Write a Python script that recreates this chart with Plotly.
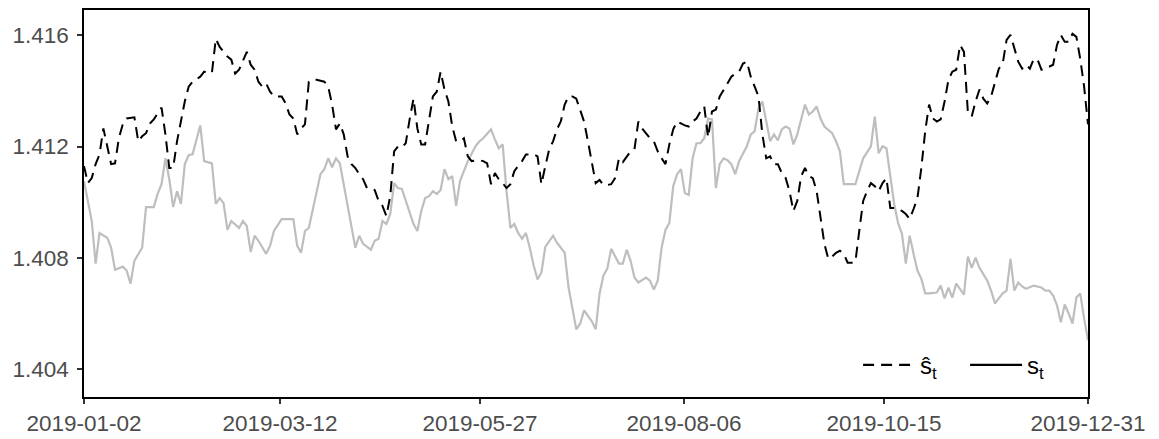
import plotly.graph_objects as go

# x readings are trading-day numbers on a 260-step reading grid (0 .. 259)
s_idx = [0, 2, 3, 4, 6, 7, 8, 10, 11, 12, 13, 15, 16, 18, 19, 20, 21, 22, 23, 24, 25, 26, 27, 28, 30, 31, 33, 34, 35, 36,
         37, 38, 40, 41, 42, 43, 44, 45, 47, 48, 49, 51, 54, 55, 56, 57, 58, 60, 61, 62, 63, 64, 65, 66, 67, 68, 70, 71, 72, 74,
         75, 76, 77, 78, 79, 80, 81, 82, 84, 85, 86, 87, 88, 89, 90, 91, 92, 93, 94, 95, 96, 97, 98, 99, 101, 102, 103, 105, 106, 107,
         108, 109, 110, 111, 112, 113, 114, 115, 116, 117, 118, 119, 121, 122, 124, 125, 127, 128, 129, 130, 131, 132, 133, 134, 135, 136, 137, 138, 139, 140,
         141, 142, 143, 145, 146, 147, 148, 149, 150, 151, 152, 153, 154, 155, 156, 157, 158, 159, 160, 161, 162, 163, 164, 165, 166, 167, 168, 169, 171, 172,
         173, 174, 175, 176, 177, 178, 179, 180, 181, 182, 183, 184, 186, 187, 188, 189, 190, 191, 193, 194, 195, 196, 199, 200, 201, 203, 204, 205, 206, 207,
         208, 209, 210, 211, 212, 213, 214, 215, 216, 217, 218, 220, 221, 222, 223, 224, 225, 226, 227, 228, 229, 230, 231, 233, 234, 235, 237, 238, 239, 240,
         241, 242, 243, 245, 247, 248, 249, 250, 251, 252, 253, 254, 255, 256, 257, 258, 259]
s_val = [1.41076, 1.40933, 1.40780, 1.40890, 1.40873, 1.40837, 1.40758, 1.40769, 1.40755, 1.40708, 1.40790, 1.40837, 1.40983, 1.40983, 1.41030, 1.41065, 1.41158, 1.41083, 1.40983, 1.41040, 1.40994, 1.41137, 1.41169, 1.41172, 1.41276, 1.41148, 1.41140, 1.40994, 1.41015, 1.40997,
         1.40901, 1.40933, 1.40908, 1.40933, 1.40915, 1.40822, 1.40880, 1.40862, 1.40815, 1.40844, 1.40897, 1.40940, 1.40940, 1.40844, 1.40819, 1.40897, 1.40908, 1.41040, 1.41101, 1.41119, 1.41158, 1.41126, 1.41158, 1.41140, 1.41065, 1.40980, 1.40837, 1.40880, 1.40851, 1.40830,
         1.40862, 1.40869, 1.40933, 1.40922, 1.40958, 1.41069, 1.41051, 1.41048, 1.40969, 1.40922, 1.40897, 1.40969, 1.41015, 1.41022, 1.41040, 1.41030, 1.41044, 1.41119, 1.41083, 1.41094, 1.40987, 1.41076, 1.41112, 1.41148, 1.41201, 1.41219, 1.41230, 1.41262, 1.41226, 1.41194,
         1.41208, 1.41040, 1.40908, 1.40922, 1.40890, 1.40869, 1.40890, 1.40837, 1.40773, 1.40723, 1.40748, 1.40840, 1.40880, 1.40855, 1.40819, 1.40694, 1.40544, 1.40565, 1.40612, 1.40590, 1.40573, 1.40544, 1.40673, 1.40737, 1.40762, 1.40833, 1.40805, 1.40780, 1.40780, 1.40830,
         1.40790, 1.40730, 1.40712, 1.40730, 1.40719, 1.40687, 1.40719, 1.40837, 1.40901, 1.40926, 1.41058, 1.41101, 1.41119, 1.41033, 1.41026, 1.41158, 1.41212, 1.41212, 1.41230, 1.41301, 1.41298, 1.41051, 1.41137, 1.41158, 1.41151, 1.41137, 1.41101, 1.41148, 1.41201, 1.41244,
         1.41255, 1.41337, 1.41362, 1.41290, 1.41219, 1.41244, 1.41222, 1.41262, 1.41272, 1.41265, 1.41208, 1.41244, 1.41351, 1.41315, 1.41326, 1.41344, 1.41301, 1.41272, 1.41248, 1.41219, 1.41183, 1.41065, 1.41065, 1.41112, 1.41158, 1.41201, 1.41308, 1.41176, 1.41201, 1.41194,
         1.41087, 1.40994, 1.40926, 1.40887, 1.40780, 1.40880, 1.40815, 1.40755, 1.40726, 1.40673, 1.40673, 1.40676, 1.40701, 1.40655, 1.40694, 1.40658, 1.40708, 1.40687, 1.40669, 1.40805, 1.40765, 1.40801, 1.40765, 1.40719, 1.40683, 1.40637, 1.40673, 1.40683, 1.40797, 1.40683,
         1.40712, 1.40698, 1.40690, 1.40701, 1.40694, 1.40683, 1.40683, 1.40665, 1.40630, 1.40569, 1.40633, 1.40601, 1.40565, 1.40658, 1.40673, 1.40583, 1.40505]

shat_idx = [0, 1, 2, 3, 4, 5, 6, 7, 8, 9, 10, 11, 13, 14, 15, 16, 17, 18, 20, 21, 22, 23, 24, 25, 26, 27, 28, 30, 31, 32,
            33, 34, 35, 36, 37, 38, 39, 40, 42, 43, 44, 45, 46, 47, 48, 49, 51, 52, 53, 54, 55, 56, 57, 58, 59, 60, 62, 63, 64, 65,
            66, 67, 68, 69, 70, 71, 72, 73, 75, 76, 77, 78, 79, 80, 81, 82, 83, 84, 85, 86, 87, 88, 89, 90, 91, 92, 93, 94, 95, 96,
            97, 98, 99, 100, 102, 103, 104, 105, 106, 107, 108, 109, 110, 111, 112, 113, 114, 115, 116, 117, 118, 119, 120, 121, 122, 123, 124, 125, 126, 127,
            128, 129, 130, 131, 132, 133, 134, 135, 136, 137, 138, 139, 140, 141, 142, 143, 144, 145, 146, 147, 148, 149, 150, 151, 152, 153, 154, 155, 156, 157,
            158, 159, 160, 161, 162, 163, 164, 165, 166, 167, 168, 169, 170, 171, 172, 173, 174, 175, 176, 177, 178, 179, 180, 181, 182, 183, 184, 185, 186, 187,
            188, 189, 190, 191, 192, 193, 194, 195, 196, 197, 198, 199, 200, 201, 202, 203, 204, 205, 206, 207, 208, 209, 210, 211, 212, 213, 214, 215, 216, 217,
            218, 219, 220, 221, 222, 223, 224, 225, 226, 227, 228, 229, 230, 231, 232, 233, 234, 235, 236, 237, 238, 239, 240, 241, 242, 243, 244, 245, 246, 247,
            248, 249, 250, 251, 252, 253, 254, 255, 256, 257, 258, 259]
shat_val = [1.41130, 1.41069, 1.41087, 1.41137, 1.41172, 1.41265, 1.41201, 1.41137, 1.41140, 1.41230, 1.41280, 1.41301, 1.41305, 1.41219, 1.41237, 1.41248, 1.41283, 1.41298, 1.41340, 1.41244, 1.41123, 1.41123, 1.41219, 1.41298, 1.41362, 1.41415, 1.41433, 1.41451, 1.41469, 1.41465,
            1.41465, 1.41587, 1.41558, 1.41540, 1.41523, 1.41512, 1.41462, 1.41476, 1.41540, 1.41494, 1.41476, 1.41433, 1.41415, 1.41426, 1.41397, 1.41380, 1.41380, 1.41355, 1.41315, 1.41301, 1.41244, 1.41265, 1.41280, 1.41433, 1.41440, 1.41440, 1.41433, 1.41415, 1.41351, 1.41262,
            1.41283, 1.41244, 1.41165, 1.41137, 1.41123, 1.41101, 1.41083, 1.41051, 1.41044, 1.41005, 1.40987, 1.40951, 1.41022, 1.41183, 1.41201, 1.41197, 1.41212, 1.41298, 1.41372, 1.41265, 1.41208, 1.41208, 1.41290, 1.41380, 1.41397, 1.41469, 1.41405, 1.41362, 1.41272, 1.41219,
            1.41219, 1.41230, 1.41165, 1.41148, 1.41151, 1.41148, 1.41140, 1.41065, 1.41105, 1.41083, 1.41069, 1.41051, 1.41065, 1.41112, 1.41130, 1.41148, 1.41172, 1.41172, 1.41172, 1.41165, 1.41065, 1.41130, 1.41190, 1.41219, 1.41262, 1.41290, 1.41351, 1.41380, 1.41380, 1.41372,
            1.41333, 1.41290, 1.41219, 1.41137, 1.41069, 1.41080, 1.41062, 1.41062, 1.41065, 1.41087, 1.41158, 1.41144, 1.41165, 1.41183, 1.41190, 1.41290, 1.41265, 1.41248, 1.41230, 1.41219, 1.41183, 1.41158, 1.41137, 1.41208, 1.41262, 1.41290, 1.41283, 1.41276, 1.41272, 1.41290,
            1.41301, 1.41326, 1.41344, 1.41233, 1.41326, 1.41333, 1.41380, 1.41405, 1.41426, 1.41451, 1.41462, 1.41469, 1.41498, 1.41505, 1.41451, 1.41415, 1.41380, 1.41244, 1.41158, 1.41165, 1.41137, 1.41137, 1.41105, 1.41087, 1.41040, 1.40969, 1.41005, 1.41094, 1.41123, 1.41094,
            1.41087, 1.41040, 1.40951, 1.40851, 1.40797, 1.40805, 1.40819, 1.40826, 1.40815, 1.40783, 1.40783, 1.40787, 1.40898, 1.41005, 1.41040, 1.41069, 1.41058, 1.41040, 1.41069, 1.41087, 1.40980, 1.40980, 1.40976, 1.40969, 1.40958, 1.40940, 1.40976, 1.41015, 1.41123, 1.41255,
            1.41351, 1.41301, 1.41290, 1.41298, 1.41362, 1.41440, 1.41469, 1.41476, 1.41565, 1.41540, 1.41326, 1.41308, 1.41362, 1.41405, 1.41372, 1.41355, 1.41380, 1.41433, 1.41480, 1.41498, 1.41583, 1.41601, 1.41551, 1.41505, 1.41480, 1.41494, 1.41480, 1.41515, 1.41512, 1.41476,
            1.41480, 1.41487, 1.41494, 1.41565, 1.41601, 1.41576, 1.41576, 1.41605, 1.41594, 1.41515, 1.41415, 1.41280]

# date labels and the trading day (of 252 trading days, 0-based) they belong to
tick_day = [0, 49, 99, 150, 200, 251]
tick_label = ["2019-01-02", "2019-03-12", "2019-05-27", "2019-08-06", "2019-10-15", "2019-12-31"]
y_ticks = [1.404, 1.408, 1.412, 1.416]

GRID_LAST = 259      # last step of the reading grid
DAY_LAST = 251       # last trading day
tick_pos = [d * GRID_LAST / DAY_LAST for d in tick_day]

FONT = "Arial, Liberation Sans, sans-serif"

fig = go.Figure()
fig.add_trace(go.Scatter(x=s_idx, y=s_val, mode="lines",
                         line=dict(color="#BEBEBE", width=2.2), showlegend=False))
fig.add_trace(go.Scatter(x=shat_idx, y=shat_val, mode="lines",
                         line=dict(color="black", width=2, dash="11px,7px"), showlegend=False))
# legend keys (drawn black, as in the reference)
fig.add_trace(go.Scatter(x=[None], y=[None], mode="lines", name="ŝ<sub>t</sub>",
                         line=dict(color="black", width=2.2, dash="11px,7px")))
fig.add_trace(go.Scatter(x=[None], y=[None], mode="lines", name="s<sub>t</sub>",
                         line=dict(color="black", width=2.2)))

fig.update_layout(
    width=1151, height=431,
    margin=dict(l=76, r=71, t=0, b=42),
    paper_bgcolor="white", plot_bgcolor="white",
    font=dict(family=FONT, size=22, color="#4D4D4D"),
    legend=dict(orientation="h", x=0.771, xanchor="left", y=0.082, yanchor="middle",
                bgcolor="rgba(0,0,0,0)", font=dict(size=24, color="black"),
                itemwidth=52, entrywidth=40, entrywidthmode="pixels", tracegroupgap=0),
)
fig.update_xaxes(
    range=[0, GRID_LAST],
    tickvals=tick_pos, ticktext=tick_label,
    showgrid=False, zeroline=False,
    showline=True, linecolor="black", linewidth=1.5, mirror=True,
    ticks="outside", ticklen=5, tickcolor="#333333", tickwidth=1.5,
    tickfont=dict(size=22.5, color="#4D4D4D"),
)
fig.update_yaxes(
    range=[1.403011, 1.416904],
    tickvals=y_ticks, tickformat=".3f",
    showgrid=False, zeroline=False,
    showline=True, linecolor="black", linewidth=1.5, mirror=True,
    ticks="outside", ticklen=5, tickcolor="#333333", tickwidth=1.5,
    ticklabelstandoff=4,
    tickfont=dict(size=22.5, color="#4D4D4D"),
)

fig.write_html("out.html")
